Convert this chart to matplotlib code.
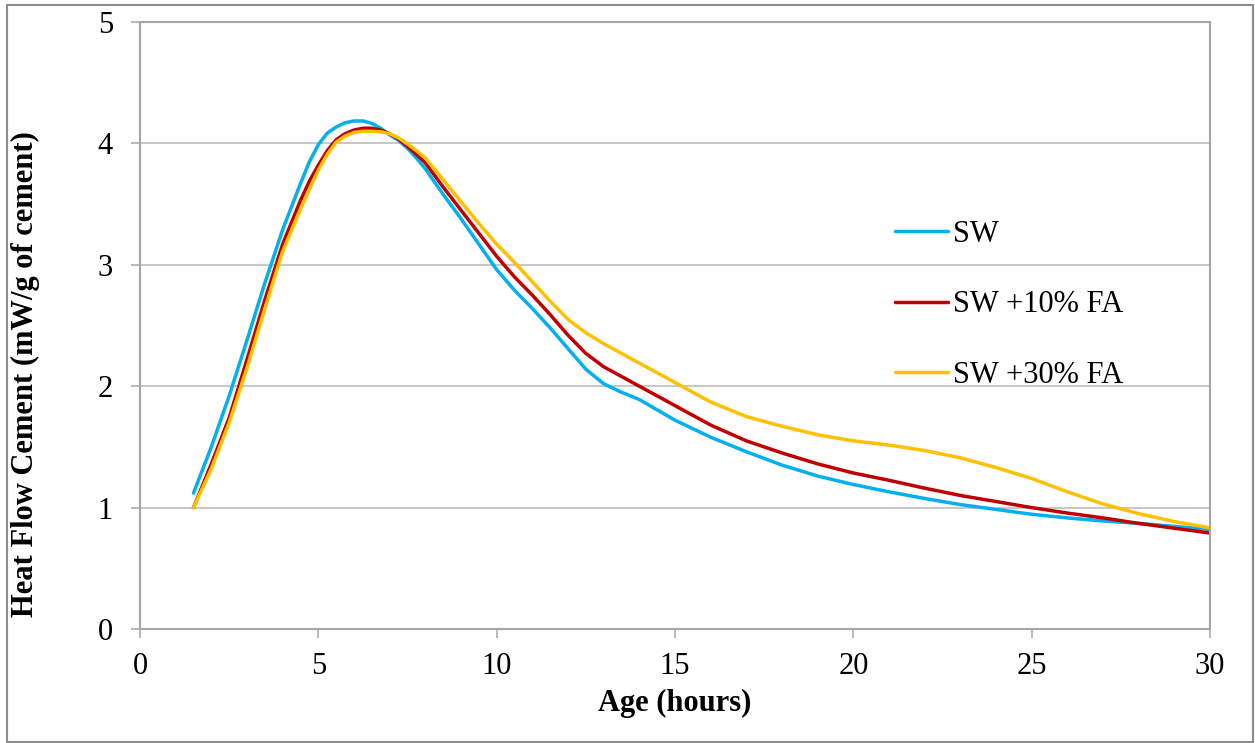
import matplotlib
matplotlib.use("Agg")
import matplotlib.pyplot as plt
from matplotlib.patches import Rectangle

plt.rcParams['font.family'] = ['Liberation Serif', 'DejaVu Serif']

# Age (hours)
age = [1.5, 2, 2.5, 3, 3.5, 4, 4.5, 4.75, 5, 5.25, 5.5, 5.75, 6, 6.25, 6.5, 6.75, 7, 7.25,
       7.5, 7.75, 8, 8.5, 9, 9.5, 10, 10.5, 11, 11.5, 12, 12.5, 13, 13.5, 14,
       15, 16, 17, 18, 19, 20, 21, 22, 23, 24, 25, 26, 27, 28, 29, 30]

sw = [1.12, 1.50, 1.92, 2.38, 2.85, 3.29, 3.67, 3.85, 3.99, 4.085, 4.135, 4.17, 4.185, 4.185,
      4.165, 4.125, 4.07, 4.025, 3.96, 3.88, 3.79, 3.58, 3.38, 3.17, 2.96, 2.79, 2.64, 2.48,
      2.31, 2.14, 2.02, 1.95, 1.89,
      1.72, 1.58, 1.46, 1.35, 1.26, 1.19, 1.13, 1.075, 1.025, 0.985, 0.945, 0.915, 0.89,
      0.87, 0.845, 0.82]

sw_10fa = [1.00, 1.36, 1.74, 2.22, 2.71, 3.17, 3.53, 3.69, 3.82, 3.94, 4.03, 4.08, 4.11, 4.125,
           4.125, 4.11, 4.08, 4.035, 3.975, 3.91, 3.84, 3.64, 3.45, 3.26, 3.07, 2.90, 2.75, 2.59,
           2.42, 2.27, 2.16, 2.08, 2.00,
           1.84, 1.68, 1.55, 1.45, 1.36, 1.285, 1.225, 1.16, 1.10, 1.05, 1.00, 0.955, 0.915,
           0.87, 0.83, 0.79]

sw_30fa = [1.00, 1.32, 1.70, 2.15, 2.64, 3.11, 3.46, 3.62, 3.78, 3.91, 4.01, 4.06, 4.09, 4.10,
           4.10, 4.095, 4.08, 4.045, 3.995, 3.94, 3.88, 3.70, 3.52, 3.34, 3.17, 3.02, 2.86, 2.70,
           2.55, 2.44, 2.35, 2.27, 2.19,
           2.03, 1.87, 1.75, 1.67, 1.60, 1.55, 1.515, 1.47, 1.41, 1.33, 1.24, 1.13, 1.03,
           0.95, 0.885, 0.833]

series_names = ['SW', 'SW +10% FA', 'SW +30% FA']
series_colors = ['#00B0F0', '#C00000', '#FFC000']

x_ticks = [0, 5, 10, 15, 20, 25, 30]
y_ticks = [0, 1, 2, 3, 4, 5]

W, H = 1255, 743
fig = plt.figure(figsize=(W / 100, H / 100), dpi=100)
ax = fig.add_axes([140 / W, 1 - 629 / H, (1210 - 140) / W, (629 - 22) / H])

for vals, name, col in zip([sw, sw_10fa, sw_30fa], series_names, series_colors):
    ax.plot(age, vals, color=col, lw=2.5, label=name, solid_capstyle='round',
            solid_joinstyle='round')

ax.set_xlim(0, 30)
ax.set_ylim(0, 5)
ax.set_xticks(x_ticks)
ax.set_yticks(y_ticks)
ax.grid(axis='y', color='#B8B8B8', lw=1.1)
ax.set_axisbelow(True)

for side in ['left', 'bottom', 'right', 'top']:
    ax.spines[side].set_color('#A6A6A6')
    ax.spines[side].set_linewidth(1.5)

ax.tick_params(axis='both', colors='#A6A6A6', length=6.5, width=1.1,
               labelsize=22, labelcolor='black')
ax.tick_params(axis='x', pad=10)
ax.tick_params(axis='y', pad=13)

ax.set_xlabel('Age (hours)', fontsize=22, fontweight='bold', labelpad=6)
ax.set_ylabel('Heat Flow Cement (mW/g of cement)', fontsize=22, fontweight='bold')
ax.yaxis.set_label_coords(-100 / (1210 - 140), 0.42)

leg = ax.legend(loc='upper left', bbox_to_anchor=(895 / W, 1 - 220 / H),
                bbox_transform=fig.transFigure, frameon=False, fontsize=22,
                handlelength=1.75, handletextpad=0.15, labelspacing=1.35,
                borderpad=0, borderaxespad=0)

fig.patches.append(Rectangle((7 / W, 1 / H), (1253 - 7) / W, (738 - 1) / H,
                             transform=fig.transFigure, fill=False,
                             edgecolor='#8C8C8C', lw=1.5))

fig.savefig('out.png', dpi=100)
